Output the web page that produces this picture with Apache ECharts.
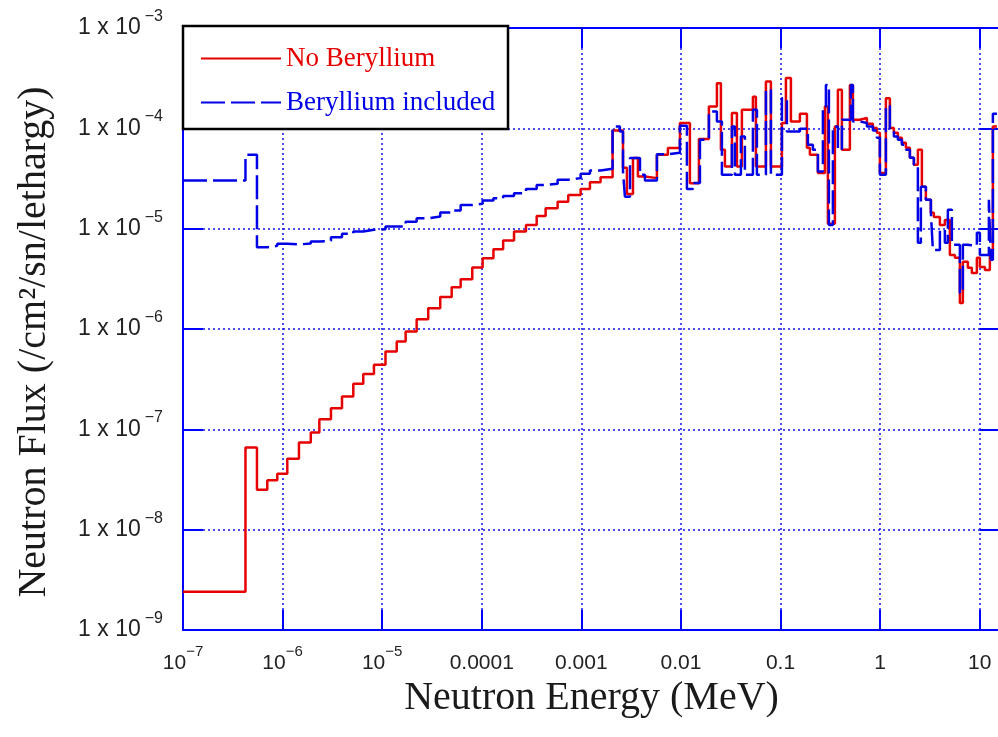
<!DOCTYPE html>
<html>
<head>
<meta charset="utf-8">
<script src="https://cdn.jsdelivr.net/npm/echarts@6/dist/echarts.min.js"></script>
<style>
  html, body { margin: 0; padding: 0; background: #fff; }
  #main { width: 998px; height: 737px; }
</style>
</head>
<body>
<div id="main"></div>
<script>
// group lower edges (MeV), thermal/epithermal part shared by both runs
var lowEdges = [1e-7, 4.24e-7, 5.53e-7, 7.02e-7, 8.85e-7, 1.115e-6, 1.46e-6, 1.92e-6, 2.34e-6, 3.06e-6,
    3.95e-6, 5.13e-6, 6.46e-6, 8.27e-6, 1.08e-5, 1.40e-5, 1.72e-5, 2.22e-5, 2.90e-5, 3.83e-5,
    4.99e-5, 6.14e-5, 8.03e-5, 1.02e-4, 1.31e-4, 1.64e-4, 2.11e-4, 2.78e-4, 3.56e-4, 4.38e-4,
    5.78e-4, 7.39e-4, 9.84e-4, 1.22e-3, 1.56e-3];

var lowFluxNoBe = [2.4e-9, 6.6e-8, 2.5e-8, 3.1e-8, 3.6e-8, 5.1e-8, 7.4e-8, 9.3e-8, 1.26e-7, 1.62e-7,
    2.12e-7, 2.84e-7, 3.57e-7, 4.39e-7, 5.95e-7, 7.5e-7, 9.42e-7, 1.25e-6, 1.61e-6, 2.09e-6,
    2.61e-6, 3.14e-6, 4.10e-6, 5.08e-6, 6.25e-6, 7.61e-6, 9.36e-6, 1.09e-5, 1.34e-5, 1.60e-5,
    1.86e-5, 2.17e-5, 2.48e-5, 2.90e-5, 3.26e-5];

var lowFluxBe = [3.02e-5, 5.44e-5, 6.54e-6, 6.74e-6, 7.06e-6, 6.97e-6, 7.10e-6, 7.44e-6, 7.56e-6, 8.23e-6,
    8.88e-6, 9.36e-6, 9.73e-6, 9.89e-6, 1.05e-5, 1.05e-5, 1.17e-5, 1.27e-5, 1.32e-5, 1.45e-5,
    1.52e-5, 1.72e-5, 1.77e-5, 1.91e-5, 2.01e-5, 2.12e-5, 2.26e-5, 2.48e-5, 2.73e-5, 2.80e-5,
    3.07e-5, 3.19e-5, 3.52e-5, 3.80e-5, 3.95e-5];

// fast part, last edge closes the last group
var highEdgesNoBe = [2.06e-3, 2.62e-3, 2.87e-3, 3.30e-3, 3.70e-3, 4.35e-3, 5.74e-3, 7.40e-3, 9.77e-3, 1.231e-2,
    1.516e-2, 1.910e-2, 2.298e-2, 2.521e-2, 2.765e-2, 3.251e-2, 3.649e-2, 4.096e-2, 5.284e-2, 5.662e-2,
    7.136e-2, 8.009e-2, 0.1033, 0.1133, 0.1272, 0.1566, 0.1842, 0.1973, 0.2374, 0.2792,
    0.2992, 0.3517, 0.3770, 0.4135, 0.4975, 0.5333, 0.6269, 0.7372, 0.8468, 0.9288,
    0.9954, 1.1435, 1.254, 1.376, 1.509, 1.656, 1.816, 1.992, 2.185, 2.396,
    2.628, 2.883, 3.236, 3.468, 3.985, 4.472, 5.020, 5.636, 6.326, 6.780,
    7.610, 8.350, 9.374, 10.05, 11.28, 12.66, 13.57, 14.9];

var highFluxNoBe = [9.51e-5, 4.04e-5, 2.22e-5, 5.05e-5, 3.31e-5, 3.19e-5, 5.44e-5, 6.35e-5, 1.13e-4, 2.84e-5,
    7.81e-5, 1.65e-4, 2.82e-4, 6.10e-5, 4.16e-5, 1.42e-4, 4.16e-5, 1.53e-4, 2.07e-4, 4.16e-5,
    2.93e-4, 4.16e-5, 1.13e-4, 3.17e-4, 1.17e-4, 1.40e-4, 6.39e-5, 5.44e-5, 3.58e-5, 1.65e-4,
    1.12e-5, 1.04e-4, 2.42e-4, 6.10e-5, 2.71e-4, 1.22e-4, 1.27e-4, 1.11e-4, 1.01e-4, 9.02e-5,
    3.58e-5, 2.00e-4, 1.01e-4, 9.02e-5, 8.04e-5, 7.17e-5, 6.39e-5, 5.08e-5, 4.33e-5, 6.10e-5,
    2.61e-5, 1.94e-5, 1.44e-5, 1.31e-5, 1.09e-5, 1.22e-5, 5.48e-6, 5.12e-6, 1.82e-6, 4.67e-6,
    4.07e-6, 3.62e-6, 5.12e-6, 4.16e-6, 3.88e-6, 6.14e-6, 1.04e-4];

var highEdgesBe = [2.06e-3, 2.44e-3, 2.62e-3, 2.74e-3, 3.08e-3, 3.88e-3, 4.35e-3, 5.74e-3, 7.40e-3, 9.77e-3,
    1.149e-2, 1.320e-2, 1.552e-2, 1.910e-2, 2.298e-2, 2.580e-2, 3.251e-2, 3.484e-2, 4.003e-2, 4.390e-2,
    5.284e-2, 5.796e-2, 7.136e-2, 8.009e-2, 0.1033, 0.1159, 0.1566, 0.1884, 0.2115, 0.2374,
    0.2665, 0.2857, 0.3062, 0.3358, 0.3770, 0.4135, 0.5091, 0.5333, 0.6269, 0.7372,
    0.8468, 0.9288, 0.9954, 1.1435, 1.254, 1.376, 1.509, 1.656, 1.816, 1.992,
    2.185, 2.396, 2.568, 2.883, 3.236, 3.389, 3.985, 4.472, 4.793, 5.257,
    6.326, 6.780, 7.436, 9.374, 10.05, 12.37, 12.95, 13.57, 14.9];

var highFluxBe = [1.04e-4, 9.29e-5, 3.71e-5, 2.08e-5, 5.05e-5, 3.44e-5, 3.02e-5, 5.53e-5, 5.70e-5, 1.06e-4,
    2.48e-5, 2.86e-5, 7.68e-5, 1.47e-4, 1.17e-4, 3.44e-5, 1.04e-4, 3.44e-5, 8.28e-5, 3.44e-5,
    1.53e-4, 3.44e-5, 2.42e-4, 3.44e-5, 2.00e-4, 9.29e-5, 9.89e-5, 6.85e-5, 6.10e-5, 3.71e-5,
    1.65e-4, 2.71e-4, 1.09e-5, 1.04e-4, 6.10e-5, 1.22e-4, 2.71e-4, 1.17e-4, 1.13e-4, 1.04e-4,
    9.51e-5, 8.04e-5, 3.44e-5, 1.68e-4, 9.51e-5, 8.28e-5, 7.68e-5, 6.85e-5, 6.10e-5, 5.08e-5,
    4.33e-5, 7.22e-6, 2.61e-5, 1.94e-5, 1.44e-5, 6.14e-6, 9.73e-6, 7.22e-6, 1.54e-5, 6.90e-6,
    2.29e-6, 6.90e-6, 6.74e-6, 9.08e-6, 5.48e-6, 1.94e-5, 4.89e-6, 1.40e-4];

var seriesNames = ['No Beryllium', 'Beryllium included'];
// x tick labels keyed by decade exponent
var xTickLabels = {
    '-7': '{b|10}{s|\u22127}', '-6': '{b|10}{s|\u22126}', '-5': '{b|10}{s|\u22125}',
    '-4': '{b|0.0001}', '-3': '{b|0.001}', '-2': '{b|0.01}', '-1': '{b|0.1}', '0': '{b|1}', '1': '{b|10}'
};
var yTickExps = [-9, -8, -7, -6, -5, -4, -3];

function toSteps(edges, flux) {
    var pts = flux.map(function (f, i) { return [edges[i], f]; });
    pts.push([edges[edges.length - 1], flux[flux.length - 1]]);
    return pts;
}

var blue = '#0000ff';
var tickFont = 'Liberation Sans';
var richX = {
    b: { fontFamily: tickFont, fontSize: 21, color: '#222', lineHeight: 30, verticalAlign: 'bottom' },
    s: { fontFamily: tickFont, fontSize: 15, color: '#222', lineHeight: 16, verticalAlign: 'top' }
};
var richY = {
    b: { fontFamily: tickFont, fontSize: 23, color: '#222', lineHeight: 31, verticalAlign: 'bottom' },
    s: { fontFamily: tickFont, fontSize: 16, color: '#222', lineHeight: 16, verticalAlign: 'top', padding: [0, 0, 0, 4] }
};

var chart = echarts.init(document.getElementById('main'), null, { renderer: 'canvas' });

var option = {
    animation: false,
    backgroundColor: '#fff',
    grid: { left: 183, right: -2, top: 28, bottom: 107, containLabel: false, outerBoundsMode: 'none' },
    xAxis: [{
        type: 'log', logBase: 10, min: 1e-7, max: 16,
        name: 'Neutron Energy (MeV)', nameLocation: 'middle', nameGap: 26,
        nameTextStyle: { fontFamily: 'Liberation Serif', fontSize: 40, color: '#1a1a1a' },
        axisLine: { lineStyle: { color: blue, width: 2 } },
        axisTick: { inside: true, length: 20, lineStyle: { color: blue, width: 2 } },
        axisLabel: {
            margin: 14, showMaxLabel: false, rich: richX,
            formatter: function (v) {
                var e = Math.round(Math.log10(v));
                return xTickLabels[String(e)] || '';
            }
        },
        splitLine: { show: true, lineStyle: { color: '#1010f0', width: 1.5, type: [2, 3] } }
    }, {
        type: 'log', logBase: 10, min: 1e-7, max: 16, position: 'top',
        axisLine: { lineStyle: { color: blue, width: 2 } },
        axisTick: { inside: true, length: 20, lineStyle: { color: blue, width: 2 } },
        axisLabel: { show: false },
        splitLine: { show: false }
    }],
    yAxis: [{
        type: 'log', logBase: 10, min: 1e-9, max: 1e-3,
        name: 'Neutron Flux (/cm\u00b2/sn/lethargy)', nameLocation: 'middle', nameGap: 129, nameRotate: 90,
        nameTextStyle: { fontFamily: 'Liberation Serif', fontSize: 40, color: '#1a1a1a', padding: [0, 26, 0, 0] },
        axisLine: { lineStyle: { color: blue, width: 2 } },
        axisTick: { inside: true, length: 20, lineStyle: { color: blue, width: 2 } },
        axisLabel: {
            margin: 20, rich: richY, padding: [0, 0, 8, 0],
            formatter: function (v) {
                var e = Math.round(Math.log10(v));
                if (yTickExps.indexOf(e) < 0) return '';
                return '{b|1 x 10}{s|\u2212' + (-e) + '}';
            }
        },
        splitLine: { show: true, lineStyle: { color: '#1010f0', width: 1.5, type: [2, 3] } }
    }, {
        type: 'log', logBase: 10, min: 1e-9, max: 1e-3, position: 'right',
        axisLine: { lineStyle: { color: blue, width: 2 } },
        axisTick: { inside: true, length: 20, lineStyle: { color: blue, width: 2 } },
        axisLabel: { show: false },
        splitLine: { show: false }
    }],
    legend: {
        orient: 'vertical', left: 195, top: 38, z: 200,
        itemWidth: 80, itemHeight: 14, itemGap: 13,
        itemStyle: { opacity: 0 },
        textStyle: { fontFamily: 'Liberation Serif', fontSize: 27, lineHeight: 31 },
        data: [
            { name: seriesNames[0], textStyle: { color: '#e60000' } },
            { name: seriesNames[1], textStyle: { color: '#0000e6' } }
        ]
    },
    graphic: [{
        type: 'rect', z: 100,
        shape: { x: 183, y: 26, width: 325, height: 103 },
        style: { fill: '#fff', stroke: '#000', lineWidth: 2.5 }
    }],
    series: [{
        name: seriesNames[0], type: 'line', step: 'end',
        symbol: 'none', clip: true,
        lineStyle: { color: '#e60000', width: 2.5 },
        itemStyle: { color: 'rgba(0,0,0,0)' },
        data: toSteps(lowEdges.concat(highEdgesNoBe), lowFluxNoBe.concat(highFluxNoBe))
    }, {
        name: seriesNames[1], type: 'line', step: 'end',
        symbol: 'none', clip: true,
        lineStyle: { color: '#0000e6', width: 2.5, type: [24, 6] },
        itemStyle: { color: 'rgba(0,0,0,0)' },
        data: toSteps(lowEdges.concat(highEdgesBe), lowFluxBe.concat(highFluxBe))
    }]
};

chart.setOption(option);
</script>
</body>
</html>
